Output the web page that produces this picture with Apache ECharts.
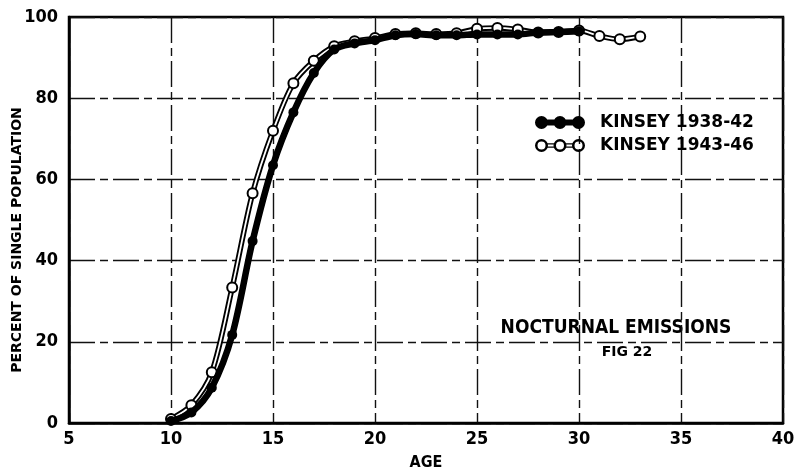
<!DOCTYPE html>
<html>
<head>
<meta charset="utf-8">
<script src="https://cdn.jsdelivr.net/npm/echarts@6/dist/echarts.min.js"></script>
<style>html,body{margin:0;padding:0;background:#fff;}#c{width:798px;height:476px;}</style>
</head>
<body>
<div id="c"></div>
<script>
// ---- data ----
const ages3842 = [10,11,12,13,14,15,16,17,18,19,20,21,22,23,24,25,26,27,28,29,30];
const kinsey3842 = [0.5,2.6,8.7,21.7,44.8,63.5,76.5,86.2,92.0,93.5,94.3,95.5,95.8,95.5,95.5,95.7,95.7,95.7,96.2,96.3,96.5];
const ages4346 = [10,11,12,13,14,15,16,17,18,19,20,21,22,23,24,25,26,27,28,29,30,31,32,33];
const kinsey4346 = [1.0,4.4,12.5,33.4,56.6,72.0,83.7,89.2,92.8,94.0,94.8,95.8,96.0,95.8,96.0,97.1,97.3,96.9,96.2,96.3,96.7,95.3,94.5,95.2];
const seriesNames = ['KINSEY 1938-42', 'KINSEY 1943-46'];
const xLabelName = 'AGE';
const yLabelName = 'PERCENT OF SINGLE POPULATION';
const titleText = 'NOCTURNAL EMISSIONS';
const subText = 'FIG 22';

const pairs = (xs, ys) => xs.map((x, i) => [x, ys[i]]);
const d3842 = pairs(ages3842, kinsey3842);
const d4346 = pairs(ages4346, kinsey4346);

const FONT = "'DejaVu Sans Condensed','Liberation Sans',sans-serif";
const FONTW = "'DejaVu Sans','Liberation Sans',sans-serif";

const filledIcon = 'path://M0,6.5A6.5,6.5 0 1,1 13,6.5A6.5,6.5 0 1,1 0,6.5Z' +
  'M18.5,6.5A6.5,6.5 0 1,1 31.5,6.5A6.5,6.5 0 1,1 18.5,6.5Z' +
  'M37,6.5A6.5,6.5 0 1,1 50,6.5A6.5,6.5 0 1,1 37,6.5Z' +
  'M6,3.5L44,3.5L44,9.5L6,9.5Z';
function ring(cx) {
  const R = 6.5, r = 4;
  return 'M' + (cx - R) + ',6.5A' + R + ',' + R + ' 0 1,1 ' + (cx + R) + ',6.5A' + R + ',' + R + ' 0 1,1 ' + (cx - R) + ',6.5Z' +
         'M' + (cx - r) + ',6.5A' + r + ',' + r + ' 0 1,0 ' + (cx + r) + ',6.5A' + r + ',' + r + ' 0 1,0 ' + (cx - r) + ',6.5Z';
}
const openIcon = 'path://' + ring(6.5) + ring(25) + ring(43.5) +
  'M12.5,4.2L19,4.2L19,5.4L12.5,5.4Z M12.5,7.6L19,7.6L19,8.8L12.5,8.8Z' +
  'M31,4.2L37.5,4.2L37.5,5.4L31,5.4Z M31,7.6L37.5,7.6L37.5,8.8L31,8.8Z';

const gridLine = { show: true, lineStyle: { color: '#111', width: 1.4, type: [26, 5, 8, 5] } };
const SMOOTH = 0.3;

const chart = echarts.init(document.getElementById('c'), null, { renderer: 'canvas' });
chart.setOption({
  backgroundColor: '#fff',
  animation: false,
  grid: { left: 69, right: 15, top: 17, bottom: 48, show: true, borderColor: '#000', borderWidth: 2.5, backgroundColor: 'transparent' },
  xAxis: {
    type: 'value', min: 5, max: 40, interval: 5,
    name: xLabelName, nameLocation: 'middle', nameGap: 32,
    nameTextStyle: { fontFamily: FONT, fontWeight: 'bold', fontSize: 16, color: '#000' },
    axisLine: { show: true, lineStyle: { color: '#000', width: 2.5 } },
    axisTick: { show: false },
    axisLabel: { margin: 7, fontFamily: FONT, fontWeight: 'bold', fontSize: 18, color: '#000' },
    splitLine: gridLine
  },
  yAxis: {
    type: 'value', min: 0, max: 100, interval: 20,
    axisLine: { show: true, lineStyle: { color: '#000', width: 2.5 } },
    axisTick: { show: false },
    axisLabel: { margin: 11, fontFamily: FONT, fontWeight: 'bold', fontSize: 18, color: '#000' },
    splitLine: gridLine
  },
  legend: {
    orient: 'vertical', left: 535, top: 114, padding: 0,
    itemWidth: 50, itemHeight: 13, itemGap: 6,
    selectedMode: false,
    textStyle: { fontFamily: FONTW, fontWeight: 'bold', fontSize: 17, color: '#000', padding: [0, 0, 0, 10] },
    data: [
      { name: seriesNames[0], icon: filledIcon, itemStyle: { color: '#000', borderWidth: 0 } },
      { name: seriesNames[1], icon: openIcon, itemStyle: { color: '#000', borderWidth: 0 } }
    ]
  },
  graphic: [
    { type: 'text', x: 17, y: 240, rotation: Math.PI / 2, silent: true,
      style: { text: yLabelName, font: "bold 14px " + FONTW, fill: '#000', align: 'center', verticalAlign: 'middle' } },
    { type: 'text', x: 616, y: 328, silent: true,
      style: { text: titleText, font: "bold 19px " + FONT, fill: '#000', align: 'center', verticalAlign: 'middle' } },
    { type: 'text', x: 627, y: 352, silent: true,
      style: { text: subText, font: "bold 14px " + FONTW, fill: '#000', align: 'center', verticalAlign: 'middle' } }
  ],
  series: [
    { name: 'outline4346', type: 'line', data: d4346, smooth: SMOOTH, showSymbol: false,
      lineStyle: { color: '#000', width: 5.5 }, z: 2, silent: true },
    { name: 'inner4346', type: 'line', data: d4346, smooth: SMOOTH, showSymbol: false,
      lineStyle: { color: '#fff', width: 1.8 }, z: 3, silent: true },
    { name: seriesNames[1], type: 'line', data: d4346, smooth: SMOOTH,
      lineStyle: { width: 0, opacity: 0 },
      symbol: 'circle', symbolSize: 10,
      itemStyle: { color: '#fff', borderColor: '#000', borderWidth: 2 }, z: 4 },
    { name: seriesNames[0], type: 'line', data: d3842, smooth: SMOOTH,
      lineStyle: { color: '#000', width: 6.5 },
      symbol: 'circle', symbolSize: 10,
      itemStyle: { color: '#000', borderColor: '#000', borderWidth: 0 }, z: 5 }
  ]
});
</script>
</body>
</html>
